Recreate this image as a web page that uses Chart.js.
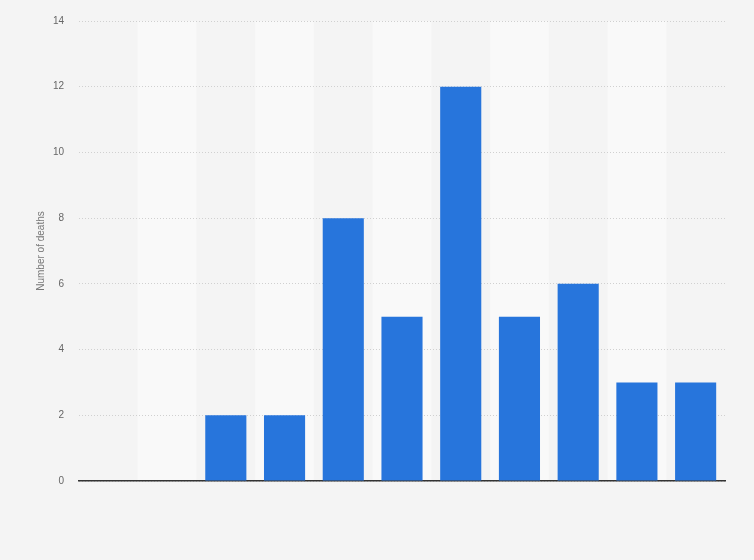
<!DOCTYPE html>
<html>
<head>
<meta charset="utf-8">
<script src="https://cdn.jsdelivr.net/npm/chart.js@4"></script>
<style>
html,body{margin:0;padding:0;background:#f4f4f4;}
#wrap{width:754px;height:560px;}
</style>
</head>
<body>
<div id="wrap"><canvas id="c" width="754" height="560"></canvas></div>
<script>
const categories = ["1","2","3","4","5","6","7","8","9","10","11"];
const deaths = [0, 0, 2, 2, 8, 5, 12, 5, 6, 3, 3];
const yTicks = [0, 2, 4, 6, 8, 10, 12, 14];

const bandPlugin = {
  id: 'bands',
  beforeDraw(chart) {
    const ctx = chart.ctx, a = chart.chartArea, x = chart.scales.x;
    ctx.save();
    ctx.fillStyle = '#f4f4f4';
    ctx.fillRect(0, 0, chart.width, chart.height);
    const step = (a.right - a.left) / categories.length;
    ctx.fillStyle = '#f9f9f9';
    categories.forEach((c, i) => {
      if (i % 2 === 1) {
        const cx = x.getPixelForValue(i);
        ctx.fillRect(cx - step / 2, a.top, step, a.bottom - a.top);
      }
    });
    ctx.restore();
  }
};

new Chart(document.getElementById('c'), {
  type: 'bar',
  data: {
    labels: categories,
    datasets: [{
      data: deaths,
      backgroundColor: '#2775dc',
      barPercentage: 0.7,
      categoryPercentage: 1.0
    }]
  },
  options: {
    responsive: false,
    animation: false,
    layout: { padding: { left: 1, right: 29, top: 15, bottom: 79 } },
    plugins: { legend: { display: false }, tooltip: { enabled: false } },
    scales: {
      x: {
        ticks: { display: false },
        grid: { display: false, drawTicks: false },
        border: { display: true, color: '#333', width: 1.5 }
      },
      y: {
        min: 0, max: 14,
        afterFit(s) { s.width = 78; },
        afterBuildTicks(s) { s.ticks = yTicks.map(v => ({ value: v })); },
        ticks: { color: '#666', font: { family: 'Liberation Sans, Arial', size: 10 }, padding: 15 },
        grid: { color: '#d0d0d0', borderDash: [1, 2], drawTicks: false, lineWidth: 1 },
        border: { display: false, dash: [1, 2] },
        title: { display: true, text: 'Number of deaths', color: '#777', font: { family: 'Liberation Sans, Arial', size: 10 }, padding: { top: 34, bottom: 12 } }
      }
    }
  },
  plugins: [bandPlugin]
});
</script>
</body>
</html>
